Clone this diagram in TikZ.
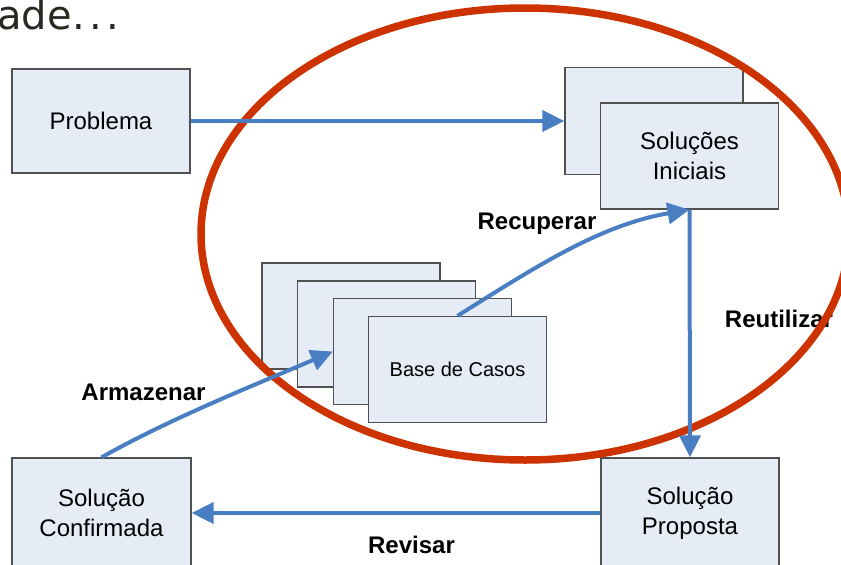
\documentclass[tikz,border=0pt]{standalone}
\usepackage{fontspec}
\setmainfont{Liberation Sans}
\newfontfamily\titlefont{DejaVu Sans}
\usetikzlibrary{arrows.meta}
\definecolor{boxfill}{RGB}{230,236,246}
\definecolor{boxline}{RGB}{80,80,80}
\definecolor{arrowblue}{RGB}{74,126,195}
\definecolor{ringred}{RGB}{204,51,0}
\definecolor{titlegray}{RGB}{43,40,34}
\begin{document}
\begin{tikzpicture}[x=1pt,y=-1pt,
  box/.style={draw=boxline, line width=1.3pt, fill=boxfill, minimum width=178pt,
    minimum height=106pt, inner sep=0pt, align=center, font=\fontsize{24}{30}\selectfont},
  flow/.style={draw=arrowblue, line width=4pt, -{Triangle[length=22pt,width=21pt]}},
  lbl/.style={font=\fontsize{24}{29}\selectfont\bfseries, inner sep=0pt},
  ring/.style={draw=ringred, line width=7.5pt}]
\useasboundingbox (0,0) rectangle (841,565);

% title fragment
\node[anchor=base west, inner sep=0pt, text=titlegray,
  font=\titlefont\fontsize{40}{44}\selectfont] (title) at (-3,29) {ade\kern1pt.\kern4pt.\kern4pt.};

% boxes
\node[box, minimum height=104pt] (prob) at (101,121) {Problema};
\node[box, minimum height=107pt] (solback) at (654,121) {};
\node[box] (solfront) at (689.5,156) {Soluções\\Iniciais};
\node[box] (base1) at (351,316) {};
\node[box] (base2) at (386.5,334) {};
\node[box] (base3) at (422.5,351.5) {};
\node[box, font=\fontsize{20}{24}\selectfont] (base4) at (457.5,369.5) {Base de Casos};
\node[box, minimum height=110pt] (prop) at (690,513) {Solução\\Proposta};
\node[box, minimum width=179pt, minimum height=110pt] (conf) at (101.5,513) {Solução\\Confirmada};

% labels
\node[lbl] (lrec) at (537,224) {Recuperar};
\node[lbl] (lreu) at (779,319) {Reutilizar};
\node[lbl] (larm) at (143.5,392) {Armazenar};
\node[lbl] (lrev) at (411.5,545) {Revisar};

% red ellipse
\draw[ring] (525,234) ellipse [x radius=324pt, y radius=226pt];

% connectors
\draw[flow] (prob.east) -- (solback.west);
\draw[flow] (solfront.south) -- (prop.north);
\draw[flow] (base4.north) .. controls (537,266) and (600,225) .. (solfront.south);
\draw[flow] (conf.north) .. controls (171.5,418) and (253.5,385.5) .. (base3.west);
\draw[flow] (prop.west) -- (conf.east);
\end{tikzpicture}
\end{document}
